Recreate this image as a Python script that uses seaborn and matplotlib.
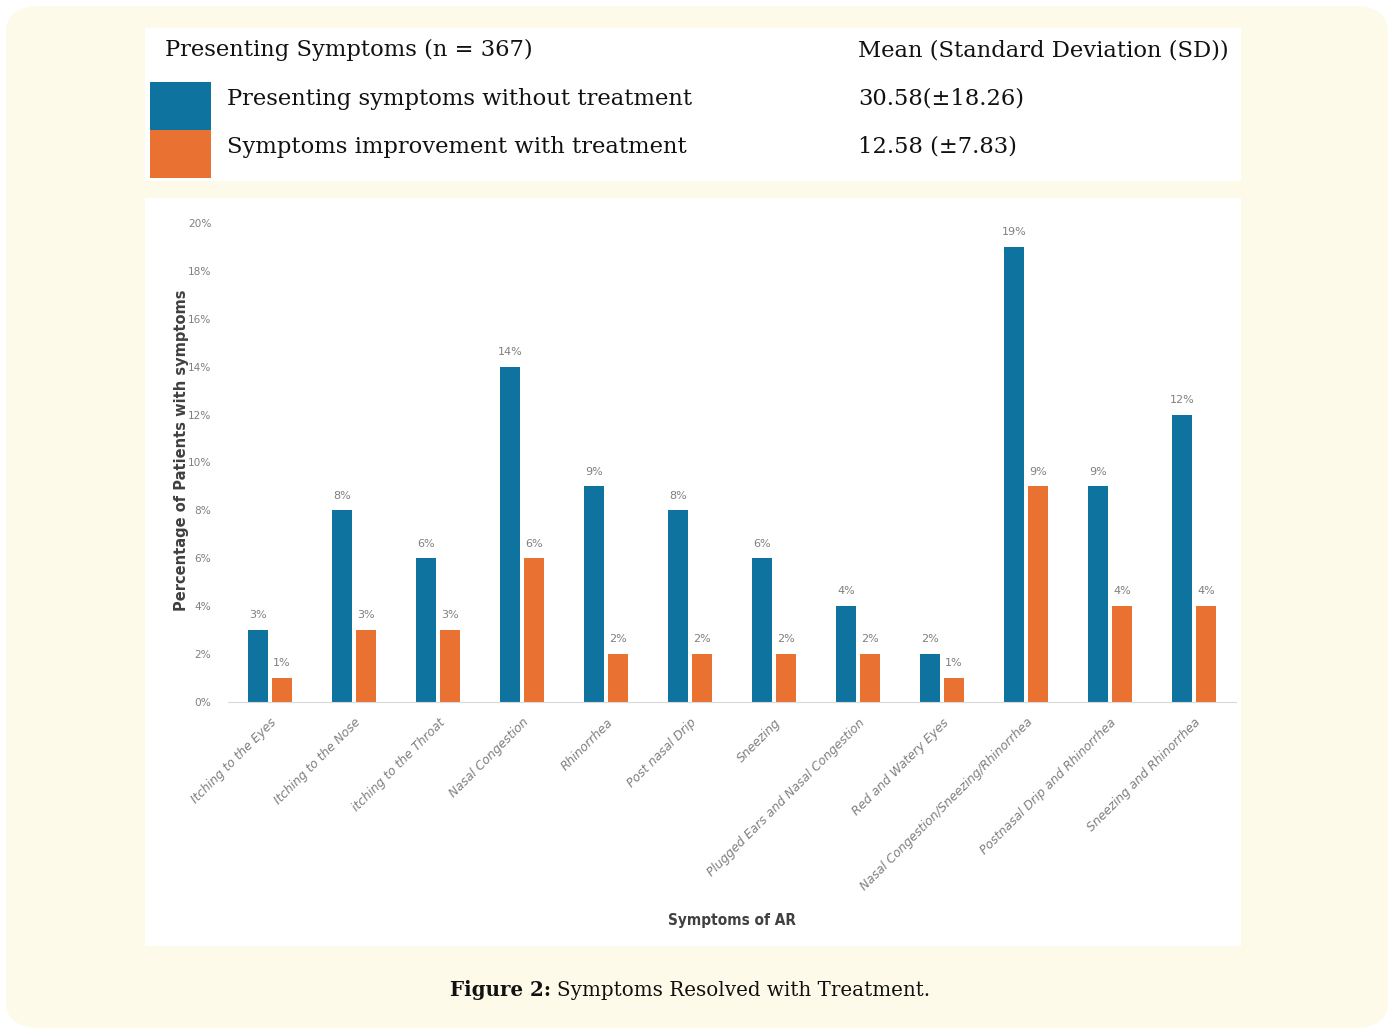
import pandas as pd
import seaborn as sns
import matplotlib.pyplot as plt
from matplotlib.patches import FancyBboxPatch, Rectangle
from matplotlib.ticker import FuncFormatter

symptoms = [
    "Itching to the Eyes", "Itching to the Nose", "itching to the Throat",
    "Nasal Congestion", "Rhinorrhea", "Post nasal Drip", "Sneezing",
    "Plugged Ears and Nasal Congestion", "Red and Watery Eyes",
    "Nasal Congestion/Sneezing/Rhinorrhea", "Postnasal Drip and Rhinorrhea",
    "Sneezing and Rhinorrhea",
]
without_treatment = [3, 8, 6, 14, 9, 8, 6, 4, 2, 19, 9, 12]
with_treatment = [1, 3, 3, 6, 2, 2, 2, 2, 1, 9, 4, 4]
series_names = ["Presenting symptoms without treatment",
                "Symptoms improvement with treatment"]
series_stats = ["30.58(\u00b118.26)", "12.58 (\u00b17.83)"]
colors = ["#0F73A0", "#E97132"]

df = pd.DataFrame({
    "symptom": symptoms * 2,
    "pct": without_treatment + with_treatment,
    "group": [series_names[0]] * len(symptoms) + [series_names[1]] * len(symptoms),
})

W, H = 1393, 1032
fig = plt.figure(figsize=(W / 100, H / 100), dpi=100, facecolor="white")


def fx(x):
    return x / W


def fy(y):
    return 1 - y / H


# cream page background and white panels
fig.patches.append(FancyBboxPatch((fx(6), fy(1028)), fx(1382), 1028 / H - 6 / H,
                                  boxstyle="round,pad=0,rounding_size=0.025",
                                  transform=fig.transFigure, facecolor="#FEFAE9",
                                  edgecolor="none", zorder=0))
fig.patches.append(Rectangle((fx(145), fy(181)), fx(1096), 153 / H,
                             transform=fig.transFigure, facecolor="white",
                             edgecolor="none", zorder=1))
fig.patches.append(Rectangle((fx(145), fy(946)), fx(1096), 748 / H,
                             transform=fig.transFigure, facecolor="white",
                             edgecolor="none", zorder=1))

# legend table
serif = "DejaVu Serif"
tsize = 16.3
fig.text(fx(165), fy(50), "Presenting Symptoms (n = 367)", family=serif,
         fontsize=tsize, va="center", color="#111111")
fig.text(fx(858), fy(50), "Mean (Standard Deviation (SD))", family=serif,
         fontsize=tsize, va="center", color="#111111")
for i, (name, stat) in enumerate(zip(series_names, series_stats)):
    top = 82 + i * 48
    fig.patches.append(Rectangle((fx(150), fy(top + 48)), fx(61), 48 / H,
                                 transform=fig.transFigure, facecolor=colors[i],
                                 edgecolor="none", zorder=2))
    fig.text(fx(227), fy(top + 17), name, family=serif, fontsize=tsize,
             va="center", color="#111111")
    fig.text(fx(858), fy(top + 17), stat, family=serif, fontsize=tsize,
             va="center", color="#111111")

# bar chart
ax = fig.add_axes([fx(228), fy(702), fx(1008), 479 / H])
ax.set_facecolor("none")
ax.set_zorder(3)
sns.barplot(data=df, x="symptom", y="pct", hue="group", palette=colors,
            saturation=1, width=0.57, gap=0.2, legend=False, ax=ax)
for cont in ax.containers:
    ax.bar_label(cont, labels=[f"{v:g}%" for v in cont.datavalues],
                 padding=7, fontsize=8, color="#7F7F7F")

ax.set_ylim(0, 20)
ax.set_yticks(range(0, 21, 2))
ax.yaxis.set_major_formatter(FuncFormatter(lambda v, p: f"{v:.0f}%"))
ax.set_xlim(-0.5, len(symptoms) - 0.5)
for s in ["top", "right", "left"]:
    ax.spines[s].set_visible(False)
ax.spines["bottom"].set_color("#D9D9D9")
ax.tick_params(axis="y", length=0, pad=12, labelsize=7.6, labelcolor="#808080")
ax.tick_params(axis="x", length=0, pad=10)
ax.set_xticks(range(len(symptoms)))
ax.set_xticklabels(symptoms, rotation=45, ha="right", rotation_mode="anchor",
                   fontsize=8.8, style="italic", color="#7F7F7F")

ax.set_ylabel("Percentage of Patients with symptoms", fontsize=10.5,
              fontweight="semibold", color="#404040")
ax.yaxis.set_label_coords(-0.039, 0.526)
ax.set_xlabel("Symptoms of AR", fontsize=11, fontweight="bold", color="#404040",
              fontstretch="condensed")
ax.xaxis.set_label_coords(0.5, -0.44)

# caption
fig.text(fx(551), fy(990), "Figure 2:", family=serif, fontsize=14.3,
         fontweight="bold", ha="right", va="center", color="#111111")
fig.text(fx(557), fy(990), "Symptoms Resolved with Treatment.", family=serif,
         fontsize=14.3, ha="left", va="center", color="#111111")

fig.savefig("out.png", dpi=100, facecolor=fig.get_facecolor())
